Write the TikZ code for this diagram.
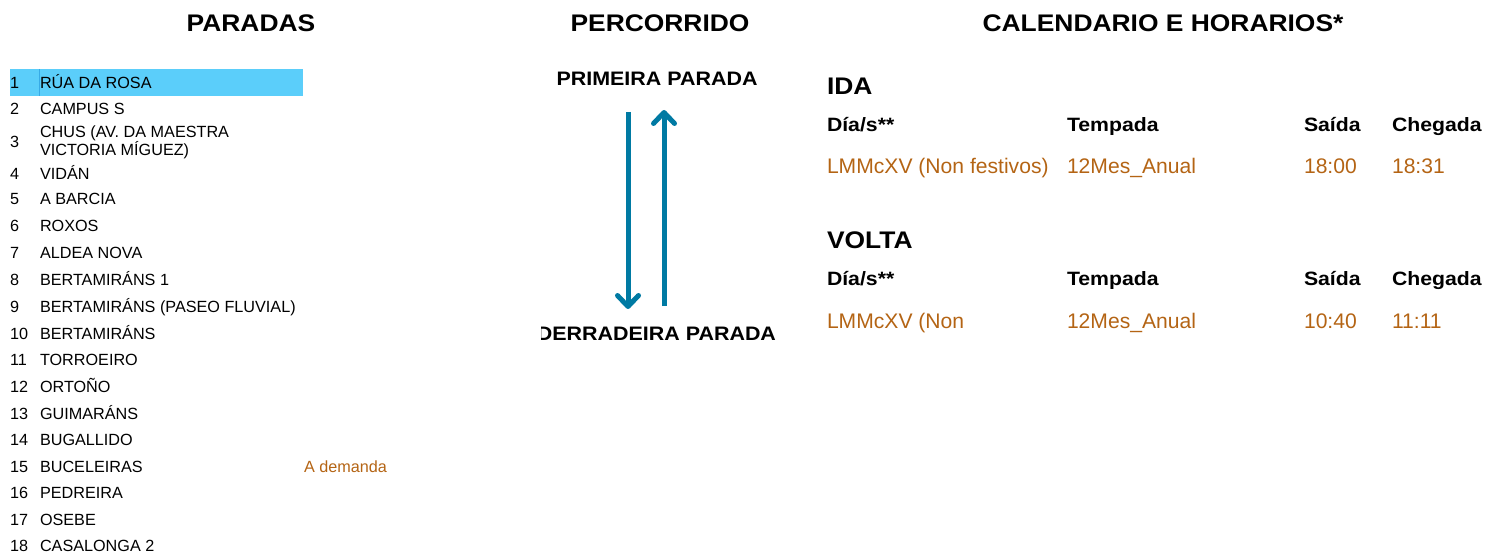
\documentclass[tikz,border=0pt]{standalone}
\usepackage{fontspec}
\setmainfont{Liberation Sans}[BoldFeatures={FakeStretch=1.1}]
\usetikzlibrary{arrows.meta}
\definecolor{hl}{RGB}{91,206,250}
\definecolor{hlline}{RGB}{55,170,230}
\definecolor{brn}{RGB}{180,100,20}
\definecolor{arr}{RGB}{0,122,163}
\tikzset{
  txt/.style={inner sep=0pt, outer sep=0pt, anchor=base west},
  title/.style={txt, anchor=base, font=\fontsize{24}{28}\selectfont\bfseries},
  lst/.style={txt, font=\fontsize{16.2}{19}\selectfont},
  endp/.style={txt, font=\fontsize{19.5}{23}\selectfont\bfseries},
  sec/.style={txt, font=\fontsize{24}{28}\selectfont\bfseries},
  th/.style={txt, font=\fontsize{19.3}{23}\selectfont\bfseries},
  td/.style={txt, text=brn, font=\fontsize{21.1}{25}\selectfont},
  route/.style={draw=arr, line width=5pt, -{Straight Barb[length=11pt,width=21pt,round]}},
}
\begin{document}
\begin{tikzpicture}[x=1pt, y=-1pt]
\useasboundingbox (0,0) rectangle (1485,553);
% titles
\node[title] (tparadas) at (251,32) {PARADAS};
\node[title] (tperc) at (660,32) {PERCORRIDO};
\node[title] (tcal) at (1163,32) {CALENDARIO E HORARIOS*};
% highlighted first stop
\fill[hl] (10,69) rectangle (303,96);
\draw[hlline, line width=1pt] (39,69) -- (39,96);
% list of stops
\foreach \n/\y/\t in {1/88.3/RÚA DA ROSA, 2/115/CAMPUS S, 4/179.3/VIDÁN, 5/205/A BARCIA,
  6/231.7/ROXOS, 7/258.3/ALDEA NOVA, 8/285/BERTAMIRÁNS 1, 9/312/BERTAMIRÁNS (PASEO FLUVIAL),
  10/339/BERTAMIRÁNS, 11/365.5/TORROEIRO, 12/392/ORTOÑO, 13/419/GUIMARÁNS, 14/445/BUGALLIDO,
  15/472/BUCELEIRAS, 16/498.5/PEDREIRA, 17/525/OSEBE, 18/551/CASALONGA 2}{
  \node[lst] (n\n) at (10,\y) {\n};
  \node[lst] (s\n) at (40,\y) {\t};
}
\node[lst] (n3) at (10,147.3) {3};
\node[lst] (s3a) at (40,137.5) {CHUS (AV. DA MAESTRA};
\node[lst] (s3b) at (40,155.5) {VICTORIA MÍGUEZ)};
\node[lst, text=brn] (dem) at (304,472) {A demanda};
% route
\node[endp, anchor=base] (first) at (657,86) {PRIMEIRA PARADA};
\begin{scope}
  \clip (541,300) rectangle (800,360);
  \node[endp, anchor=base east] (last) at (776,340) {DERRADEIRA PARADA};
\end{scope}
\coordinate (d1) at (628,112);
\coordinate (d2) at (628,309);
\coordinate (u1) at (664,306);
\coordinate (u2) at (664,110);
\draw[route] (d1) -- (d2);
\draw[route] (u1) -- (u2);
% IDA
\node[sec] (ida) at (827,95) {IDA};
\node[th] (ih1) at (827,131.7) {Día/s**};
\node[th] (ih2) at (1067,131.7) {Tempada};
\node[th] (ih3) at (1304,131.7) {Saída};
\node[th] (ih4) at (1392,131.7) {Chegada};
\node[td] (iv1) at (827,174) {LMMcXV (Non festivos)};
\node[td] (iv2) at (1067,174) {12Mes\_Anual};
\node[td] (iv3) at (1304,174) {18:00};
\node[td] (iv4) at (1392,174) {18:31};
% VOLTA
\node[sec] (volta) at (827,249) {VOLTA};
\node[th] (vh1) at (827,285.7) {Día/s**};
\node[th] (vh2) at (1067,285.7) {Tempada};
\node[th] (vh3) at (1304,285.7) {Saída};
\node[th] (vh4) at (1392,285.7) {Chegada};
\node[td] (vv1) at (827,328.5) {LMMcXV (Non};
\node[td] (vv2) at (1067,328.5) {12Mes\_Anual};
\node[td] (vv3) at (1304,328.5) {10:40};
\node[td] (vv4) at (1392,328.5) {11:11};
\end{tikzpicture}
\end{document}
